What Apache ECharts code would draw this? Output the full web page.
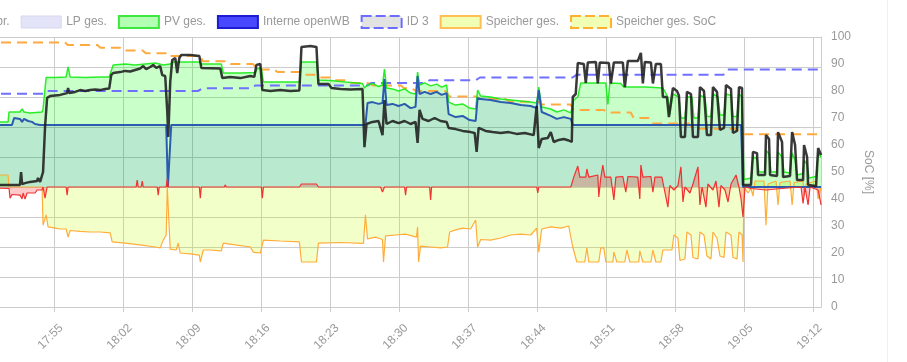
<!DOCTYPE html>
<html><head><meta charset="utf-8">
<script src="https://cdn.jsdelivr.net/npm/echarts@6/dist/echarts.min.js"></script>
<style>html,body{margin:0;padding:0;background:#fff}#c{width:907px;height:362px}</style>
</head><body><div id="c"></div>
<script>
// x values: minutes after 17:48
const timeLabels = ['17:48','17:55','18:02','18:09','18:16','18:23','18:30','18:37','18:44','18:51','18:58','19:05','19:12'];
const socTicks = [0,10,20,30,40,50,60,70,80,90,100];

// Speicher ges. SoC [%]
const socBattery = [[0,98],[8.1,98],[8.4,97],[11.4,97],[11.7,96],[13.7,96],[13.9,95],[16.0,95],[16.3,94],[18.5,94],[18.6,93],[21.8,93],[22.1,91],[24.6,91],[24.9,90],[27.2,90],[27.6,88],[29.3,88],[29.7,87],[32.0,87],[32.2,86],[33.7,86],[34.0,85],[35.2,85],[35.5,84],[36.6,84],[37.1,83],[38.8,83],[39.4,82],[42.2,82],[42.5,81],[43.3,81],[43.7,80],[46.7,80],[47.1,78],[49.8,78],[50.2,77],[52.8,77],[53.3,76],[56.1,76],[56.4,75],[59.4,75],[59.7,73],[62.8,73],[63.1,72],[65.5,72],[65.8,70],[67.3,70],[67.6,68],[71.4,68],[71.8,66],[76.2,66],[76.7,64],[84.8,64]];

// ID 3 SoC [%]
const socId3 = [[0,79],[6.1,79],[6.3,80],[21.6,80],[22.1,81],[27.1,81],[27.4,82],[38.8,82],[39.2,83],[44.7,83],[45.1,84],[49.8,84],[50.2,85],[59.6,85],[60.0,86],[74.9,86],[75.3,88],[84.8,88]];

// PV ges. [kW]
const pvPower = [[0,2.17],[2.34,2.17],[2.44,2.5],[3.55,2.5],[3.76,2.6],[3.96,2.5],[4.57,2.47],[5.79,2.5],[5.89,2.6],[6.2,3.65],[7.11,3.65],[8.23,3.67],[8.43,4.0],[8.63,3.67],[10.16,3.65],[11.68,3.67],[12.6,3.67],[13.0,4.07],[14.22,4.1],[15.23,4.07],[16.25,4.1],[17.27,4.13],[18.08,4.07],[18.79,4.1],[19.1,4.17],[21.74,4.17],[21.94,4.1],[23.97,4.1],[24.17,3.8],[25.9,3.8],[27.42,3.82],[27.63,3.95],[28.03,3.95],[28.24,3.5],[29.96,3.5],[31.89,3.5],[32.1,4.17],[33.62,4.17],[33.82,3.57],[35.04,3.55],[36.56,3.5],[38.29,3.45],[38.49,3.3],[38.8,3.4],[39.3,3.45],[39.92,3.35],[40.32,3.4],[40.52,3.93],[40.73,3.3],[41.34,3.27],[41.95,3.2],[42.56,3.27],[43.17,3.13],[43.67,3.1],[43.88,3.83],[44.08,3.4],[44.59,3.47],[45.2,3.37],[45.81,3.43],[46.32,3.33],[46.82,3.4],[47.03,2.83],[47.74,2.73],[48.45,2.77],[49.16,2.63],[49.77,2.6],[49.97,3.23],[50.28,3.03],[51.29,3.0],[52.31,2.93],[53.32,2.9],[54.34,2.87],[55.35,2.83],[55.96,2.8],[56.17,3.33],[56.47,2.67],[57.39,2.6],[58.0,2.5],[58.71,2.57],[59.42,2.47],[59.72,2.9],[60.13,3.0],[60.43,3.47],[62.97,3.47],[63.18,2.75],[63.38,3.47],[64.5,3.45],[64.8,3.33],[67.04,3.33],[68.76,3.3],[69.27,3.0],[69.47,2.4],[69.78,3.1],[70.39,3.0],[70.59,2.3],[71.0,2.3],[71.2,3.0],[71.71,3.0],[71.91,2.3],[72.32,2.3],[72.52,3.05],[73.03,3.0],[73.23,2.35],[73.64,2.35],[73.84,3.1],[74.35,3.0],[74.55,2.4],[74.96,2.4],[75.16,3.1],[75.67,3.05],[75.87,2.35],[76.28,2.35],[76.48,3.1],[76.79,3.0],[76.99,0.25],[77.7,0.3],[77.9,1.0],[78.31,0.95],[78.51,0.5],[79.12,0.5],[79.22,1.23],[79.53,1.1],[79.73,0.5],[80.34,0.5],[80.44,1.17],[80.85,1.0],[81.05,0.5],[81.66,0.47],[81.87,1.13],[82.17,0.9],[82.37,0.4],[82.98,0.45],[83.08,0.9],[83.39,0.75],[83.59,0.3],[84.3,0.35],[84.51,1.13],[84.81,1.0]];

// Interne openWB / LP ges. [kW]
const lpPower = [[0,2.07],[2.74,2.07],[2.95,2.3],[3.55,2.27],[3.76,2.17],[3.96,2.27],[4.37,2.2],[4.77,2.17],[5.08,2.1],[5.59,2.07],[18.38,2.07],[18.55,0],[18.75,0],[18.89,2.07],[38.59,2.07],[38.8,2.8],[39.3,2.83],[39.92,2.77],[40.32,2.8],[40.52,3.6],[40.73,2.73],[41.34,2.77],[41.95,2.7],[42.56,2.77],[43.17,2.63],[43.67,2.67],[43.88,3.7],[44.08,3.1],[44.59,3.17],[45.2,3.1],[45.81,3.17],[46.32,3.07],[46.82,3.13],[47.03,2.43],[47.74,2.33],[48.45,2.37],[49.16,2.23],[49.77,2.2],[49.97,2.97],[50.28,2.93],[51.29,2.9],[52.31,2.83],[53.32,2.8],[54.34,2.73],[55.35,2.7],[55.96,2.63],[56.17,3.23],[56.47,2.5],[57.39,2.37],[58.0,2.27],[58.71,2.33],[59.42,2.27],[59.62,2.07],[76.69,2.07],[76.89,0],[84.8,0]];

// Hausverbr. [kW]
const housePower = [[0,0.07],[3.55,0.07],[3.66,0.5],[3.76,0.1],[4.06,0.13],[4.57,0.17],[5.28,0.2],[5.38,0.3],[5.59,0.17],[5.79,0.2],[5.89,0.5],[6.09,2.0],[6.3,2.97],[6.6,3.03],[7.62,3.07],[8.33,3.13],[8.43,3.3],[8.53,3.13],[9.14,3.17],[9.65,3.23],[10.16,3.2],[10.66,3.23],[11.17,3.25],[11.68,3.23],[12.19,3.27],[12.6,3.28],[12.8,3.73],[13.0,3.8],[13.71,3.83],[14.22,3.87],[14.73,3.85],[15.23,3.9],[15.74,3.95],[16.05,4.03],[16.35,3.93],[16.76,4.0],[17.06,4.07],[17.37,3.97],[17.77,4.03],[17.98,3.73],[18.28,3.7],[18.49,2.5],[18.59,1.67],[18.79,3.5],[18.99,4.23],[19.3,4.3],[19.5,3.8],[19.71,4.3],[19.91,4.4],[20.82,4.4],[21.74,4.37],[21.94,3.97],[23.87,3.95],[24.07,3.63],[24.88,3.67],[25.9,3.63],[26.91,3.7],[27.32,3.67],[27.53,4.07],[27.93,4.1],[28.13,3.23],[28.95,3.2],[29.96,3.23],[30.98,3.2],[31.89,3.22],[32.1,4.67],[33.01,4.7],[33.62,4.67],[33.82,3.43],[34.84,3.43],[35.14,3.3],[36.06,3.27],[37.07,3.25],[38.29,3.27],[38.49,1.33],[38.7,2.1],[39.3,2.17],[39.92,2.2],[40.32,1.73],[40.52,2.9],[40.73,2.1],[41.34,2.2],[41.95,2.13],[42.56,2.2],[43.17,2.1],[43.67,2.17],[43.88,1.47],[44.08,2.57],[44.38,2.27],[44.99,2.2],[45.61,2.3],[46.21,2.2],[46.82,2.17],[47.03,1.97],[47.74,1.93],[48.45,1.87],[49.26,1.83],[49.67,1.8],[49.87,1.17],[50.07,1.97],[50.78,1.87],[51.49,1.83],[52.31,1.8],[53.12,1.83],[53.93,1.77],[54.75,1.8],[55.66,1.73],[55.96,2.7],[56.17,1.3],[56.47,1.6],[57.08,1.63],[57.39,1.83],[57.69,1.5],[58.2,1.57],[58.71,1.6],[59.21,1.55],[59.52,1.5],[59.62,3.0],[59.92,3.1],[60.13,4.13],[60.74,4.1],[60.94,3.47],[61.15,4.15],[61.96,4.17],[62.16,3.45],[62.36,4.15],[63.28,4.13],[63.48,3.45],[63.79,4.15],[64.7,4.15],[64.9,3.33],[65.21,4.2],[66.22,4.2],[66.53,4.47],[66.73,3.45],[66.93,4.17],[67.55,4.15],[67.75,3.45],[68.05,4.1],[68.56,4.1],[68.76,3.0],[69.17,3.0],[69.37,2.33],[69.78,3.3],[70.19,3.2],[70.39,3.05],[70.59,1.67],[71.0,1.67],[71.2,3.17],[71.61,3.1],[71.81,1.67],[72.32,1.67],[72.52,3.33],[72.93,3.2],[73.23,1.73],[73.64,1.73],[73.84,3.33],[74.25,3.17],[74.55,1.9],[74.96,1.97],[75.16,3.4],[75.67,3.27],[75.87,1.8],[76.28,1.87],[76.48,3.33],[76.79,3.3],[76.89,0.07],[77.7,0.07],[77.9,1.17],[78.31,1.13],[78.41,0.4],[79.12,0.4],[79.22,1.73],[79.53,1.6],[79.63,0.4],[80.34,0.37],[80.44,1.83],[80.85,1.5],[80.95,0.33],[81.66,0.37],[81.87,1.83],[82.17,1.4],[82.37,0.23],[82.98,0.23],[83.08,1.4],[83.39,1.0],[83.49,0.07],[84.3,0.03],[84.51,1.3],[84.81,1.07]];

// Speicher ges. [kW]
const batteryPower = [[0,0.4],[2.34,0.4],[2.44,0],[5.79,0],[5.89,-1.27],[6.2,-0.93],[6.4,-1.33],[7.11,-1.37],[7.62,-1.4],[8.23,-1.4],[8.43,-1.67],[8.63,-1.45],[9.65,-1.48],[10.66,-1.5],[11.68,-1.5],[12.7,-1.53],[12.9,-1.83],[14.22,-1.87],[15.74,-1.93],[17.27,-2.0],[17.77,-2.03],[18.08,-1.77],[18.38,-1.6],[18.49,0],[18.59,0],[18.79,-2.07],[19.4,-2.1],[19.6,-1.87],[19.8,-2.2],[20.82,-2.23],[21.74,-2.27],[21.84,-2.5],[22.14,-2.1],[22.85,-2.1],[23.97,-2.13],[24.17,-1.87],[25.39,-1.93],[26.91,-2.0],[27.22,-2.17],[27.93,-2.2],[28.24,-1.77],[29.96,-1.8],[31.89,-1.83],[32.1,-2.5],[33.62,-2.5],[33.82,-1.87],[36.06,-1.85],[38.39,-1.88],[38.59,-0.93],[38.8,-1.73],[39.61,-1.67],[40.32,-1.75],[40.42,-2.5],[40.63,-1.63],[41.64,-1.6],[42.66,-1.57],[43.77,-1.67],[43.88,-1.33],[43.98,-2.5],[44.18,-1.97],[45.2,-2.0],[46.21,-2.03],[46.92,-2.0],[47.13,-1.5],[47.74,-1.43],[48.45,-1.37],[49.26,-1.4],[49.77,-1.1],[49.97,-2.0],[50.28,-1.75],[51.29,-1.77],[52.31,-1.7],[53.32,-1.6],[54.34,-1.57],[55.35,-1.6],[55.96,-1.37],[56.17,-2.17],[56.47,-1.4],[57.39,-1.33],[58.4,-1.37],[59.21,-1.3],[59.62,-2.0],[60.03,-2.5],[60.84,-2.5],[61.05,-2.03],[61.25,-2.5],[62.26,-2.5],[62.46,-2.03],[62.77,-2.03],[62.97,-2.5],[63.69,-2.5],[63.79,-2.17],[64.09,-2.5],[64.9,-2.5],[65.11,-2.1],[65.41,-2.5],[66.32,-2.5],[66.42,-2.13],[66.73,-2.5],[67.55,-2.5],[67.75,-2.1],[68.05,-2.5],[68.56,-2.5],[68.76,-2.1],[69.68,-2.1],[69.88,-1.6],[70.29,-1.7],[70.49,-2.45],[71.0,-2.4],[71.2,-1.5],[71.61,-1.6],[71.81,-2.35],[72.32,-2.4],[72.52,-1.5],[72.93,-1.6],[73.23,-2.3],[73.64,-2.4],[73.84,-1.5],[74.25,-1.7],[74.55,-2.3],[74.96,-2.35],[75.16,-1.5],[75.67,-1.6],[75.87,-2.35],[76.28,-2.4],[76.48,-1.5],[76.79,-1.6],[76.89,-2.5],[76.99,0],[77.19,-0.1],[77.4,-0.2],[77.7,-0.05],[77.9,-0.3],[78.11,0.2],[79.02,0.2],[79.22,-1.27],[79.43,0.1],[80.24,0.2],[80.44,-0.6],[80.64,0.15],[81.66,0.2],[81.87,-0.6],[82.07,0.15],[82.98,0.2],[83.08,-0.3],[83.29,0.1],[84.3,0.2],[84.51,-0.4],[84.81,0]];

// EVU [kW]
const gridPower = [[0,-0.03],[2.44,-0.05],[2.54,-0.37],[2.74,-0.25],[3.55,-0.27],[3.76,-0.4],[3.86,-0.2],[4.06,-0.4],[4.27,-0.2],[5.08,-0.2],[5.28,-0.1],[5.79,-0.1],[5.89,0],[6.09,-0.37],[6.3,0],[8.23,0],[8.33,-0.27],[8.43,0],[15.33,0],[15.44,0.23],[15.54,0],[15.84,0],[15.95,0.2],[16.05,0],[17.47,0],[17.57,-0.27],[17.67,0],[18.38,0],[18.49,0.3],[18.59,0],[21.74,0],[21.84,-0.37],[21.94,0],[24.27,0],[24.38,0.07],[24.48,0],[28.03,0],[28.13,-0.37],[28.24,0],[31.89,0],[32.1,0.1],[33.62,0.1],[33.82,0],[40.12,0],[40.32,-0.17],[40.52,0],[42.56,0],[42.66,-0.27],[42.76,0],[45.1,0],[45.2,-0.43],[45.3,0],[55.96,0],[56.07,-0.2],[56.17,0],[59.42,0],[59.72,0.33],[59.92,0.3],[60.13,0.7],[60.33,0.33],[60.94,0.33],[61.05,0.6],[61.25,0.33],[62.16,0.4],[62.26,-0.33],[62.46,0.3],[62.67,0.73],[62.87,0.33],[63.48,0.33],[63.79,-0.43],[63.99,0.33],[64.7,0.35],[65.0,-0.17],[65.21,0.35],[66.22,0.33],[66.42,-0.4],[66.53,0.73],[66.73,0.33],[67.55,0.35],[67.75,-0.17],[67.95,0.33],[68.66,0.33],[68.86,0],[69.27,-0.67],[69.47,0.05],[69.88,-0.1],[70.29,0.05],[70.59,0.67],[70.8,-0.5],[71.0,0],[71.51,-0.2],[71.81,0.1],[72.32,0.67],[72.52,-0.6],[72.73,0],[73.13,-0.67],[73.33,0.1],[73.84,-0.1],[74.15,0.2],[74.45,-0.67],[74.65,0.05],[75.06,-0.1],[75.37,-0.5],[75.67,0.1],[76.18,0.4],[76.48,0],[76.69,-0.4],[76.89,-1.0],[77.09,0],[77.7,-0.05],[79.22,-0.1],[80.75,-0.05],[82.78,0],[82.98,-0.55],[83.18,0],[83.49,-0.6],[83.69,0],[84.51,-0.1],[84.81,-0.6]];

const FONT = '"Liberation Sans", Arial, Helvetica, sans-serif';
const chart = echarts.init(document.getElementById('c'), null, {renderer: 'canvas'});
function lineSeries(name, data, opts) {
  return Object.assign({
    name: name, type: 'line', data: data, showSymbol: false, symbol: 'none',
    animation: false, silent: true, emphasis: {disabled: true}
  }, opts);
}
const option = {
  animation: false,
  textStyle: {fontFamily: FONT},
  grid: {left: -15, right: 86, top: 37, bottom: 55, containLabel: false, outerBoundsMode: 'none'},
  legend: {
    left: -181, top: 10, itemWidth: 40, itemHeight: 12, itemGap: 11,
    selectedMode: false,
    textStyle: {color: '#999', fontSize: 12, fontFamily: FONT},
    data: [
      {name: 'EVU', icon: 'rect', itemStyle: {color: 'rgba(255,0,0,0.3)', borderColor: '#f03c3c', borderWidth: 2}},
      {name: 'Hausverbr.', icon: 'rect', itemStyle: {color: 'rgba(90,90,90,0.3)', borderColor: '#333', borderWidth: 2}},
      {name: 'LP ges.', icon: 'rect', itemStyle: {color: '#e4e4f8', borderColor: '#d6d6f0', borderWidth: 1}},
      {name: 'PV ges.', icon: 'rect', itemStyle: {color: '#b3ffb3', borderColor: '#3ee83e', borderWidth: 2}},
      {name: 'Interne openWB', icon: 'rect', itemStyle: {color: '#4848ff', borderColor: '#1c1cd0', borderWidth: 2}},
      {name: 'ID 3', icon: 'rect', itemStyle: {color: '#e2e2e2', borderColor: '#6c6cff', borderWidth: 2, borderType: [10, 4]}},
      {name: 'Speicher ges.', icon: 'rect', itemStyle: {color: '#f0ffb3', borderColor: '#ffbf55', borderWidth: 2}},
      {name: 'Speicher ges. SoC', icon: 'rect', itemStyle: {color: '#f0ffb3', borderColor: '#ffb030', borderWidth: 2, borderType: [10, 4]}}
    ]
  },
  xAxis: {
    type: 'value', min: 0, max: 84.8, interval: 7,
    axisLine: {show: true, onZero: false, lineStyle: {color: '#ccc'}},
    axisTick: {show: true, length: 5, lineStyle: {color: '#ccc'}},
    splitLine: {show: true, lineStyle: {color: '#ccc'}},
    axisLabel: {
      rotate: 45, margin: 12, verticalAlign: 'top', lineHeight: 20, color: '#999', fontSize: 12,
      showMaxLabel: false, hideOverlap: false,
      formatter: function (v) { const i = Math.round(v / 7); return Math.abs(v - i * 7) < 1e-6 ? (timeLabels[i] || '') : ''; }
    }
  },
  yAxis: [
    {
      type: 'value', min: -4, max: 5, interval: 1, position: 'left',
      axisLine: {show: false}, axisTick: {show: false}, axisLabel: {show: false},
      splitLine: {show: true, lineStyle: {color: '#ccc'}}
    },
    {
      type: 'value', min: socTicks[0], max: socTicks[socTicks.length - 1], interval: 10, position: 'right',
      axisLine: {show: true, lineStyle: {color: '#ccc'}}, axisTick: {show: false},
      axisLabel: {color: '#999', fontSize: 12, margin: 10},
      splitLine: {show: false},
      name: 'SoC [%]', nameLocation: 'middle', nameRotate: -90, nameGap: 40,
      nameTextStyle: {color: '#999', fontSize: 12}
    }
  ],
  graphic: [{type: 'line', silent: true, shape: {x1: 887.5, y1: 0, x2: 887.5, y2: 362}, style: {stroke: '#f0f0f0', lineWidth: 1}}],
  series: [
    lineSeries('Speicher ges. SoC', socBattery, {yAxisIndex: 1, lineStyle: {color: '#ffaa40', width: 2, type: [10, 6]}}),
    lineSeries('ID 3', socId3, {yAxisIndex: 1, lineStyle: {color: '#7070ff', width: 2, type: [10, 6]}}),
    lineSeries('Speicher ges.', batteryPower, {lineStyle: {color: '#ffad3a', width: 1.2}, areaStyle: {color: 'rgba(200,255,0,0.3)', origin: 0}}),
    lineSeries('PV ges.', pvPower, {lineStyle: {color: 'rgba(20,235,20,0.9)', width: 1.5}, areaStyle: {color: 'rgba(0,255,0,0.3)', origin: 0}}),
    lineSeries('LP ges.', lpPower, {lineStyle: {width: 0, opacity: 0}, areaStyle: {color: 'rgba(0,0,255,0.06)', origin: 0}}),
    lineSeries('Interne openWB', lpPower, {lineStyle: {color: '#2c5cb0', width: 2}, areaStyle: {color: 'rgba(0,0,255,0.06)', origin: 0}}),
    lineSeries('EVU', gridPower, {lineStyle: {color: '#f03232', width: 1.2}, areaStyle: {color: 'rgba(255,0,0,0.3)', origin: 0}}),
    lineSeries('Hausverbr.', housePower, {lineStyle: {color: 'rgba(30,30,30,0.88)', width: 2.5}})
  ]
};
chart.setOption(option);
</script>
</body></html>
